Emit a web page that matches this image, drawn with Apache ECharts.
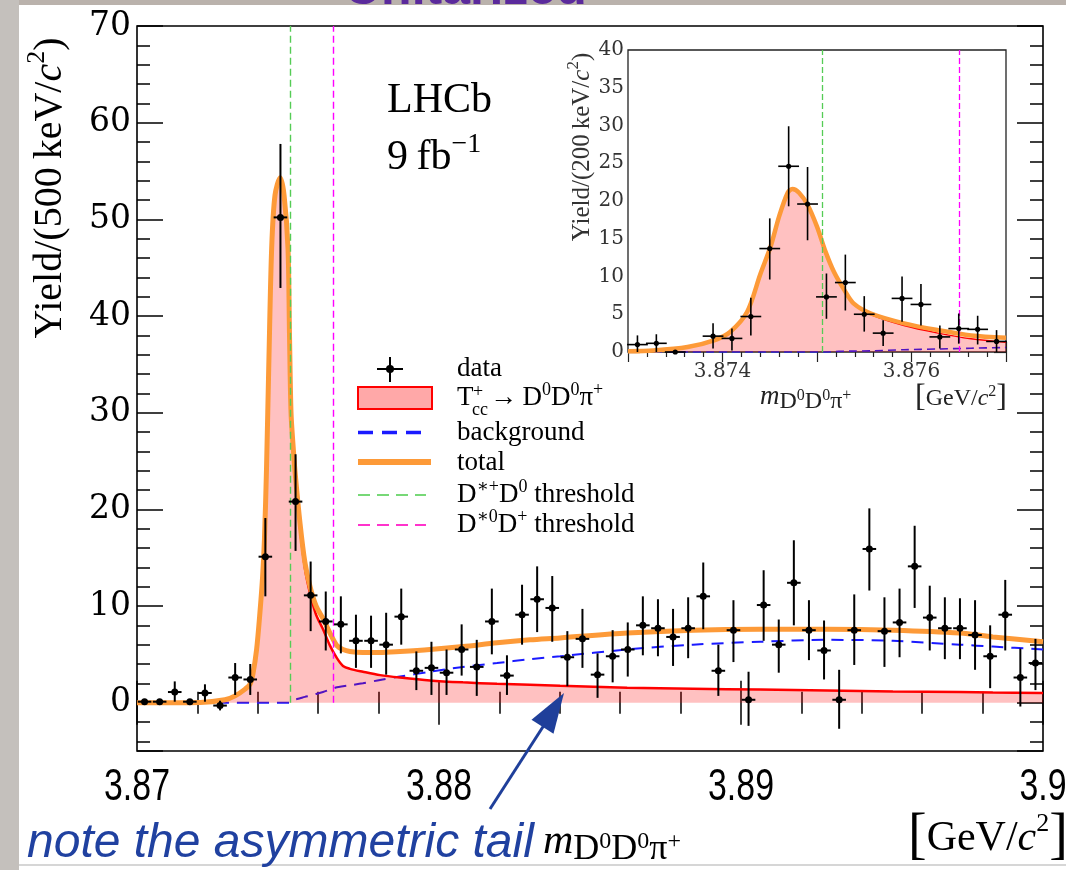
<!DOCTYPE html>
<html>
<head>
<meta charset="utf-8">
<title>Tcc+ -> D0D0pi+ mass spectrum</title>
<script src="https://cdn.jsdelivr.net/npm/echarts@6.0.0/dist/echarts.min.js"></script>
<style>
    html, body { margin: 0; padding: 0; background: #fff; }
    #main { width: 1066px; height: 870px; }
</style>
</head>
<body>
<div id="main"></div>
<script>
// ---- main histogram, 500 keV bins (bin centres, GeV) ----
var mainX = [
    3.87025, 3.87075, 3.87125, 3.87175, 3.87225, 3.87275, 3.87325, 3.87375, 3.87425, 3.87475,
    3.87525, 3.87575, 3.87625, 3.87675, 3.87725, 3.87775, 3.87825, 3.87875, 3.87925, 3.87975,
    3.88025, 3.88075, 3.88125, 3.88175, 3.88225, 3.88275, 3.88325, 3.88375, 3.88425, 3.88475,
    3.88525, 3.88575, 3.88625, 3.88675, 3.88725, 3.88775, 3.88825, 3.88875, 3.88925, 3.88975,
    3.89025, 3.89075, 3.89125, 3.89175, 3.89225, 3.89275, 3.89325, 3.89375, 3.89425, 3.89475,
    3.89525, 3.89575, 3.89625, 3.89675, 3.89725, 3.89775, 3.89825, 3.89875, 3.89925, 3.89975
];
var mainYield = [
    0.1, 0.1, 1.1, 0.1, 1.0, -0.3, 2.6, 2.4, 15.1, 50.2,
    20.8, 11.1, 8.4, 8.1, 6.4, 6.4, 6.0, 8.9, 3.3, 3.6,
    3.1, 5.5, 3.7, 8.4, 2.8, 9.1, 10.7, 9.8, 4.7, 6.6,
    2.9, 4.8, 5.5, 8.0, 7.7, 6.8, 7.7, 11.0, 3.3, 7.5,
    0.3, 10.1, 6.0, 12.4, 7.5, 5.4, 0.3, 7.5, 15.9, 7.4,
    8.3, 14.1, 8.8, 7.7, 7.7, 7.0, 4.8, 9.1, 2.6, 4.1
];
var mainUpper = [
    0.1, 0.1, 2.2, 0.1, 1.9, 0.2, 4.1, 4.0, 19.1, 57.8,
    25.7, 14.6, 11.5, 11.0, 9.1, 9.0, 9.3, 11.8, 5.3, 6.3,
    5.5, 8.1, 6.5, 11.8, 4.9, 12.2, 14.1, 13.1, 7.4, 9.7,
    5.1, 7.5, 8.3, 11.0, 10.7, 9.7, 10.9, 14.5, 6.0, 10.6,
    3.2, 13.7, 8.6, 16.8, 10.6, 8.5, 3.4, 11.2, 20.1, 10.9,
    11.8, 18.3, 12.1, 10.9, 10.8, 10.6, 8.0, 12.7, 5.6, 6.6
];
var mainLower = [
    0.1, 0.1, 0.1, 0.1, 0.1, -0.8, 0.8, 0.8, 11.0, 42.9,
    15.7, 7.4, 5.4, 5.1, 3.6, 3.6, 2.9, 6.0, 1.3, 0.8,
    0.8, 2.8, 0.7, 5.0, 0.8, 6.0, 7.3, 6.3, 1.7, 3.6,
    0.5, 2.1, 2.7, 4.9, 4.8, 3.8, 4.6, 7.6, 0.7, 4.2,
    -2.4, 6.4, 3.1, 8.0, 4.4, 2.4, -2.7, 3.9, 11.6, 3.7,
    4.7, 9.8, 5.4, 4.5, 4.5, 3.4, 1.5, 5.4, -0.4, 1.3
];
var mainXTickValues = [3.87, 3.88, 3.89, 3.90];
var mainXTickLabels = ['3.87', '3.88', '3.89', '3.9'];

// fit curves
var curveX = [
    3.87000, 3.87209, 3.87291, 3.87325, 3.87358, 3.87374, 3.87384, 3.87396, 3.87407, 3.87416,
    3.87422, 3.87429, 3.87437, 3.87446, 3.87457, 3.87474, 3.87487, 3.87500, 3.87505, 3.87510,
    3.87517, 3.87523, 3.87540, 3.87556, 3.87573, 3.87593, 3.87616, 3.87639, 3.87662, 3.87682,
    3.87705, 3.87748, 3.87805, 3.87871, 3.87970, 3.88079, 3.88192, 3.88301, 3.88401, 3.88623,
    3.88841, 3.89063, 3.89285, 3.89503, 3.89725, 3.89834, 3.90000
];
var totalCurve = [
    0.0, 0.03, 0.3, 0.7, 1.4, 1.9, 3.0, 5.5, 9.3, 13.1,
    16.9, 24.4, 35.8, 47.1, 52.5, 54.3, 52.5, 47.0, 38.0, 30.0,
    26.5, 24.0, 18.5, 14.5, 12.0, 10.0, 8.7, 7.2, 5.9, 5.5,
    5.3, 5.2, 5.2, 5.3, 5.5, 5.8, 6.2, 6.5, 6.7, 7.2,
    7.5, 7.6, 7.6, 7.5, 7.2, 6.8, 6.3
];
var signalCurve = [
    0.0, 0.03, 0.3, 0.7, 1.4, 1.9, 3.0, 5.5, 9.3, 13.1,
    16.9, 24.4, 35.8, 47.1, 52.5, 54.3, 52.5, 47.0, 38.0, 29.9,
    26.3, 23.7, 18.0, 13.9, 11.3, 9.1, 7.6, 5.9, 4.6, 3.8,
    3.5, 3.2, 2.85, 2.6, 2.3, 2.1, 1.95, 1.85, 1.75, 1.55,
    1.45, 1.35, 1.25, 1.15, 1.1, 1.05, 1.0
];
var bgCurve = [
    0, 0, 0, 0, 0, 0, 0, 0, 0, 0,
    0, 0, 0, 0, 0, 0, 0, 0, 0, 0.1,
    0.2, 0.3, 0.45, 0.6, 0.72, 0.9, 1.1, 1.35, 1.6, 1.7,
    1.8, 2.0, 2.35, 2.7, 3.2, 3.7, 4.1, 4.5, 4.8, 5.5,
    6.0, 6.3, 6.5, 6.4, 6.0, 5.8, 5.5
];

// ---- inset, 200 keV bins ----
var insetX = [
    3.8731, 3.8733, 3.8735, 3.8737, 3.8739, 3.8741, 3.8743, 3.8745, 3.8747, 3.8749,
    3.8751, 3.8753, 3.8755, 3.8757, 3.8759, 3.8761, 3.8763, 3.8765, 3.8767, 3.8769
];
var insetYield = [0.98, 1.15, 0.0, null, 2.1, 1.8, 4.7, 13.7, 24.6, 19.6, 7.3, 9.2, 5.0, 2.5, 7.1, 6.3, 2.0, 3.1, 3.0, 1.4];
var insetUpper = [2.2, 2.35, 0.0, null, 3.8, 3.1, 7.2, 17.7, 29.9, 24.5, 10.4, 12.9, 7.4, 4.2, 10.0, 9.0, 3.5, 5.1, 4.8, 2.9];
var insetLower = [0.0, 0.0, 0.0, null, 0.45, 0.2, 2.2, 9.6, 19.3, 14.8, 4.4, 5.5, 2.7, 0.8, 4.0, 3.5, 0.45, 1.1, 1.0, 0.0];

var insetCurveX = [
    3.87300, 3.87327, 3.87363, 3.87391, 3.87408, 3.87426, 3.87440, 3.87451, 3.87460, 3.87469,
    3.87474, 3.87481, 3.87490, 3.87500, 3.87509, 3.87518, 3.87529, 3.87539, 3.87557, 3.87592,
    3.87628, 3.87663, 3.87700
];
var insetTotal = [0.1, 0.2, 0.66, 1.55, 2.66, 5.3, 10.3, 14.0, 18.0, 21.1, 21.6, 21.1, 19.5, 16.6, 13.3, 10.6, 8.2, 6.4, 5.1, 3.8, 2.9, 2.2, 1.9];
var insetSignal = [0.1, 0.2, 0.66, 1.55, 2.66, 5.3, 10.3, 14.0, 18.0, 21.1, 21.6, 21.1, 19.5, 16.6, 13.3, 10.55, 8.1, 6.3, 4.95, 3.5, 2.5, 1.75, 1.3];
var insetBg = [0, 0, 0, 0, 0, 0, 0, 0, 0, 0, 0, 0, 0, 0, 0, 0.05, 0.1, 0.12, 0.15, 0.3, 0.4, 0.5, 0.6];

// D*+D0 and D*0D+ thresholds (GeV)
var thresholds = [3.87506, 3.87651];
var thresholdColors = ['#55cc55', '#ff00ff'];

var mainBinWidth = 0.0005;
var insetBinWidth = 0.0002;

// ------------------------------------------------------------
var SERIF = "'Liberation Serif', 'DejaVu Serif', serif";
var DVSERIF = "'DejaVu Serif', serif";
var SANS = "'Liberation Sans', Arial, sans-serif";
var ORANGE = '#fd9a38';
var BLUE = '#1a1aff';
var PINK = 'rgba(255, 0, 0, 0.35)';

function pairs(xs, ys) {
    return xs.map(function (x, i) { return [x, ys[i]]; });
}

function points(xs, ys, lo, hi) {
    var out = [];
    for (var i = 0; i < xs.length; i++) {
        if (ys[i] === null) continue;
        out.push([xs[i], ys[i], lo[i], hi[i]]);
    }
    return out;
}

// data marker: dot + vertical error + horizontal bin bar
function errorBars(half, lw, r) {
    return function (params, api) {
        var x = api.value(0), y = api.value(1);
        var c = api.coord([x, y]);
        var top = api.coord([x, api.value(3)]);
        var bot = api.coord([x, api.value(2)]);
        var l = api.coord([x - half, y]);
        var rr = api.coord([x + half, y]);
        var st = { stroke: '#000', lineWidth: lw };
        return {
            type: 'group',
            children: [
                { type: 'line', shape: { x1: c[0], y1: top[1], x2: c[0], y2: bot[1] }, style: st },
                { type: 'line', shape: { x1: l[0], y1: c[1], x2: rr[0], y2: c[1] }, style: st },
                { type: 'circle', shape: { cx: c[0], cy: c[1], r: r }, style: { fill: '#000' } }
            ]
        };
    };
}

function thresholdLines(top) {
    return thresholds.map(function (t, i) {
        return [
            { coord: [t, 0], lineStyle: { color: thresholdColors[i] } },
            { coord: [t, top] }
        ];
    });
}

function tok(size, extra) {
    var t = { fontFamily: SERIF, fontSize: size, fill: '#000', verticalAlign: 'bottom' };
    if (extra) for (var k in extra) t[k] = extra[k];
    return t;
}

function txt(x, y, text, rich, more) {
    var el = {
        type: 'text', x: x, y: y, z: 100,
        style: { text: text, rich: rich, align: 'left', verticalAlign: 'bottom' }
    };
    if (more) for (var k in more) {
        if (k === 'style') { for (var s in more.style) el.style[s] = more.style[s]; }
        else el[k] = more[k];
    }
    return el;
}

function axisPair(base, showLabel) {
    var a = JSON.parse(JSON.stringify(base));
    if (!showLabel) a.axisLabel = { show: false };
    return a;
}

var tickStyle = { color: '#000', width: 1.5 };

var mainX0 = {
    type: 'value', gridIndex: 0, min: 3.87, max: 3.90, interval: 0.01,
    axisLine: { show: false }, splitLine: { show: false },
    axisTick: { show: true, inside: true, length: 22, lineStyle: tickStyle },
    minorTick: { show: true, splitNumber: 5, length: 11, lineStyle: tickStyle },
    axisLabel: { show: false }
};
var mainY0 = {
    type: 'value', gridIndex: 0, min: -5, max: 70, splitNumber: 7,
    axisLine: { show: false }, splitLine: { show: false },
    axisTick: { show: true, inside: true, length: 26, lineStyle: tickStyle },
    minorTick: { show: true, splitNumber: 5, length: 13, lineStyle: tickStyle },
    axisLabel: { fontFamily: DVSERIF, fontSize: 33, color: '#000', margin: 6 }
};
var insetX0 = {
    type: 'value', gridIndex: 1, min: 3.873, max: 3.877, interval: 0.001,
    axisLine: { show: false }, splitLine: { show: false },
    axisTick: { show: true, inside: true, length: 10, lineStyle: { color: '#222', width: 1.2 } },
    minorTick: { show: true, splitNumber: 5, length: 5, lineStyle: { color: '#222', width: 1.2 } },
    axisLabel: { fontFamily: DVSERIF, fontSize: 20, color: '#333', margin: 10 }
};
var insetY0 = {
    type: 'value', gridIndex: 1, min: 0, max: 40, interval: 5,
    axisLine: { show: false }, splitLine: { show: false },
    axisTick: { show: true, inside: true, length: 12, lineStyle: { color: '#222', width: 1.2 } },
    minorTick: { show: true, splitNumber: 5, length: 6, lineStyle: { color: '#222', width: 1.2 } },
    axisLabel: { fontFamily: DVSERIF, fontSize: 20, color: '#333', margin: 4 }
};

var xMainBottom = axisPair(mainX0, false);
var xMainTop = axisPair(mainX0, false); xMainTop.position = 'top';
var yMainLeft = axisPair(mainY0, true);
yMainLeft.axisLabel.formatter = function (v) { return v < 0 ? '' : String(Math.round(v)); };
var yMainRight = axisPair(mainY0, false); yMainRight.position = 'right';

var xInsetBottom = axisPair(insetX0, true);
xInsetBottom.axisLabel.formatter = function (v) {
    var k = Math.round(v * 1000);
    return (k === 3874 || k === 3876) ? (k / 1000).toFixed(3) : '';
};
var xInsetTop = axisPair(insetX0, false); xInsetTop.position = 'top';
var yInsetLeft = axisPair(insetY0, true);
var yInsetRight = axisPair(insetY0, false); yInsetRight.position = 'right';

// ---- texts, legend and slide decorations ----
var rLeg = { n: tok(27), up: tok(18, { padding: [0, 0, 12, 0] }) };
var legX = 457;
var graphics = [
    { type: 'rect', z: 90, shape: { x: 0, y: 0, width: 1066, height: 5 }, style: { fill: '#bab2ac' } },
    { type: 'rect', z: 90, shape: { x: 0, y: 0, width: 19, height: 870 }, style: { fill: '#c4c0bc' } },
    { type: 'line', z: 90, shape: { x1: 19, y1: 865, x2: 1066, y2: 865 }, style: { stroke: '#d6d6d6', lineWidth: 2 } },
    txt(345, 15, '{u|Unitarized}', { u: { fontFamily: SANS, fontWeight: 'bold', fontSize: 50, fill: '#5b2a9c', verticalAlign: 'bottom' } }),

    // LHCb label
    txt(387, 122, '{n|LHCb}', { n: tok(42) }),
    txt(387, 179, '{n|9\u2009fb}{s|\u22121}', { n: tok(42), s: tok(28, { padding: [0, 0, 20, 0] }) }),

    // legend symbols
    { type: 'line', z: 100, shape: { x1: 390, y1: 357, x2: 390, y2: 382 }, style: { stroke: '#000', lineWidth: 2 } },
    { type: 'line', z: 100, shape: { x1: 377, y1: 369, x2: 403, y2: 369 }, style: { stroke: '#000', lineWidth: 2 } },
    { type: 'circle', z: 100, shape: { cx: 390, cy: 369, r: 4 }, style: { fill: '#000' } },
    { type: 'rect', z: 100, shape: { x: 358, y: 387, width: 74, height: 22 }, style: { fill: '#ffa8a8', stroke: '#ff0000', lineWidth: 2 } },
    { type: 'line', z: 100, shape: { x1: 358, y1: 432.5, x2: 424, y2: 432.5 }, style: { stroke: BLUE, lineWidth: 3.5, lineDash: [15, 9] } },
    { type: 'line', z: 100, shape: { x1: 358, y1: 462, x2: 431, y2: 462 }, style: { stroke: ORANGE, lineWidth: 6 } },
    { type: 'line', z: 100, shape: { x1: 358, y1: 495, x2: 426, y2: 495 }, style: { stroke: '#77d877', lineWidth: 2, lineDash: [12, 7] } },
    { type: 'line', z: 100, shape: { x1: 358, y1: 525, x2: 426, y2: 525 }, style: { stroke: '#ff33cc', lineWidth: 2, lineDash: [12, 7] } },

    // legend labels
    txt(legX, 382, '{n|data}', rLeg),
    txt(legX, 411, '{n|T}', rLeg),
    txt(473, 401, '{s|+}', { s: tok(18) }),
    txt(472, 419, '{s|cc}', { s: tok(18) }),
    txt(490, 411, '{n|\u2192\u2009D}{up|0}{n|D}{up|0}{n|\u03c0}{up|+}', rLeg),
    txt(legX, 446, '{n|background}', rLeg),
    txt(legX, 476, '{n|total}', rLeg),
    txt(legX, 508, '{n|D}{up|\u2217+}{n|D}{up|0}{n| threshold}', rLeg),
    txt(legX, 538, '{n|D}{up|\u22170}{n|D}{up|+}{n| threshold}', rLeg),

    // main axis titles
    txt(47, 188, '{n|Yield/(500\u2009keV/}{i|c}{s|2}{n|)}',
        { n: tok(40), i: tok(40, { fontStyle: 'italic' }), s: tok(26, { padding: [0, 0, 20, 0] }) },
        { rotation: Math.PI / 2, style: { align: 'center', verticalAlign: 'middle' } }),
    txt(543, 868, '{i|m}{sb|D}{ss|0}{sb|D}{ss|0}{sb|\u03c0}{ss|+}',
        { i: tok(42, { fontStyle: 'italic', padding: [0, 0, 5, 0] }), sb: tok(36), ss: tok(24, { padding: [0, 0, 14, 0] }) }),
    txt(908, 865, '{br|[}{n|GeV/}{i|c}{s|2}{br|]}',
        { br: tok(56), n: tok(42, { padding: [0, 0, 5, 0] }), i: tok(42, { fontStyle: 'italic', padding: [0, 0, 5, 0] }),
          s: tok(26, { padding: [0, 0, 28, 0] }) }),

    // inset axis titles
    txt(580, 147, '{n|Yield/(200\u2009keV/}{i|c}{s|2}{n|)}',
        { n: tok(25, { fill: '#333' }), i: tok(25, { fill: '#333', fontStyle: 'italic' }), s: tok(17, { fill: '#333', padding: [0, 0, 12, 0] }) },
        { rotation: Math.PI / 2, style: { align: 'center', verticalAlign: 'middle' } }),
    txt(760, 414, '{i|m}{sb|D}{ss|0}{sb|D}{ss|0}{sb|\u03c0}{ss|+}',
        { i: tok(27, { fontStyle: 'italic', padding: [0, 0, 4, 0], fill: '#222' }), sb: tok(24, { fill: '#222' }), ss: tok(16, { fill: '#222', padding: [0, 0, 10, 0] }) }),
    txt(915, 414, '{br|[}{n|GeV/}{i|c}{s|2}{br|]}',
        { br: tok(32, { fill: '#222' }), n: tok(24, { fill: '#222', padding: [0, 0, 3, 0] }), i: tok(24, { fill: '#222', fontStyle: 'italic', padding: [0, 0, 3, 0] }),
          s: tok(16, { fill: '#222', padding: [0, 0, 14, 0] }) }),

    // slide annotation
    { type: 'line', z: 110, shape: { x1: 490, y1: 809, x2: 548, y2: 719 }, style: { stroke: '#1f3f9a', lineWidth: 3 } },
    { type: 'polygon', z: 110, shape: { points: [[564, 693], [531.5, 719.7], [553.5, 733.7]] }, style: { fill: '#1f3f9a' } },
    txt(27, 868, '{t|note the asymmetric tail}',
        { t: { fontFamily: SANS, fontStyle: 'italic', fontSize: 48, fill: '#2041a0', verticalAlign: 'bottom' } })
];

var smoothing = 0.3;

var chart = echarts.init(document.getElementById('main'));
chart.setOption({
    animation: false,
    backgroundColor: '#fff',
    grid: [
        { left: 137, right: 23, top: 26, bottom: 119, outerBoundsMode: 'none', containLabel: false,
          show: true, borderColor: '#000', borderWidth: 1.6, z: 0 },
        { left: 628, right: 60, top: 50, bottom: 518, outerBoundsMode: 'none', containLabel: false,
          show: true, borderColor: '#222', borderWidth: 1.3, backgroundColor: '#fff', z: 6 }
    ],
    xAxis: [xMainBottom, xMainTop, xInsetBottom, xInsetTop],
    yAxis: [yMainLeft, yMainRight, yInsetLeft, yInsetRight],
    series: [
        {
            name: 'background', type: 'line', xAxisIndex: 0, yAxisIndex: 0, z: 2,
            data: pairs(curveX, bgCurve), showSymbol: false, smooth: smoothing,
            lineStyle: { color: BLUE, width: 2, type: [12, 8] },
            markLine: {
                silent: true, symbol: 'none', label: { show: false }, z: 5,
                lineStyle: { type: [7, 4], width: 1.4 },
                data: thresholdLines(70)
            }
        },
        {
            name: 'signal', type: 'line', xAxisIndex: 0, yAxisIndex: 0, z: 3,
            data: pairs(curveX, signalCurve), showSymbol: false, smooth: smoothing,
            lineStyle: { color: '#ff0000', width: 2.5 },
            areaStyle: { color: PINK }
        },
        {
            name: 'total', type: 'line', xAxisIndex: 0, yAxisIndex: 0, z: 4,
            data: pairs(curveX, totalCurve), showSymbol: false, smooth: smoothing,
            lineStyle: { color: ORANGE, width: 5 }
        },
        {
            name: 'data', type: 'custom', xAxisIndex: 0, yAxisIndex: 0, z: 10,
            renderItem: errorBars(mainBinWidth * 0.45, 2, 3.5),
            encode: { x: 0, y: 1 },
            data: points(mainX, mainYield, mainLower, mainUpper)
        },
        {
            name: 'inset background', type: 'line', xAxisIndex: 2, yAxisIndex: 2, z: 12,
            data: pairs(insetCurveX, insetBg), showSymbol: false, smooth: smoothing,
            lineStyle: { color: BLUE, width: 1.6, type: [8, 5] },
            markLine: {
                silent: true, symbol: 'none', label: { show: false }, z: 15,
                lineStyle: { type: [6, 3], width: 1.3 },
                data: thresholdLines(40)
            }
        },
        {
            name: 'inset signal', type: 'line', xAxisIndex: 2, yAxisIndex: 2, z: 13,
            data: pairs(insetCurveX, insetSignal), showSymbol: false, smooth: smoothing,
            lineStyle: { color: '#ff0000', width: 1.5 },
            areaStyle: { color: PINK }
        },
        {
            name: 'inset total', type: 'line', xAxisIndex: 2, yAxisIndex: 2, z: 14,
            data: pairs(insetCurveX, insetTotal), showSymbol: false, smooth: smoothing,
            lineStyle: { color: ORANGE, width: 4.5 }
        },
        {
            name: 'inset data', type: 'custom', xAxisIndex: 2, yAxisIndex: 2, z: 20,
            renderItem: errorBars(insetBinWidth * 0.55, 1.6, 2.6),
            encode: { x: 0, y: 1 },
            data: points(insetX, insetYield, insetLower, insetUpper)
        }
    ],
    graphic: graphics
});

// main x tick labels: placed through the axis scale, drawn condensed like the original
var labelY = chart.convertToPixel({ yAxisIndex: 0 }, -5) + 37;
var tickLabels = mainXTickValues.map(function (v, i) {
    return {
        type: 'text', z: 100, x: chart.convertToPixel({ xAxisIndex: 0 }, v), y: labelY, scaleX: 0.77,
        style: { text: mainXTickLabels[i], fontFamily: SANS, fontSize: 44, fill: '#000', align: 'center', verticalAlign: 'middle' }
    };
});
chart.setOption({ graphic: graphics.concat(tickLabels) });
</script>
</body>
</html>
